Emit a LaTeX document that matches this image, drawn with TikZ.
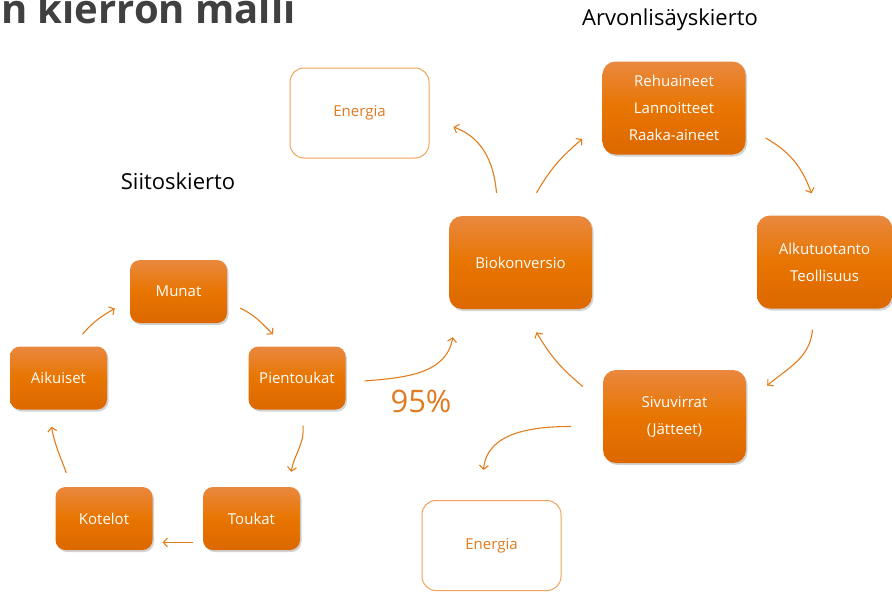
\documentclass[tikz,border=0pt]{standalone}
\usepackage{fontspec}
\setmainfont{Open Sans}
\usetikzlibrary{arrows.meta, shadows, positioning}

\definecolor{boxtop}{HTML}{E9883F}
\definecolor{boxmid}{HTML}{E87500}
\definecolor{boxbot}{HTML}{DC6800}
\definecolor{lineor}{HTML}{E27D1E}
\definecolor{edgeor}{HTML}{F2A358}
\definecolor{textor}{HTML}{E07A1E}
\definecolor{titlegray}{HTML}{404040}

\tikzset{
	stage/.style={rectangle, rounded corners=10pt, minimum width=97pt, minimum height=63pt, inner sep=0pt,
		top color=boxtop, bottom color=boxbot, middle color=boxmid, text=white, align=center,
		font=\fontsize{15}{27}\selectfont,
		drop shadow={shadow xshift=1.5pt, shadow yshift=-2pt, opacity=0.35}},
	bigstage/.style={stage, rounded corners=13pt, minimum width=143pt, minimum height=93pt},
	outbox/.style={rectangle, rounded corners=14pt, draw=edgeor, line width=1pt, fill=white, inner sep=0pt,
		minimum width=139pt, minimum height=90pt, text=textor, font=\fontsize{15}{18}\selectfont},
	flow/.style={draw=lineor, line width=1.1pt, -{Straight Barb[length=4pt,width=9pt]}},
	heading/.style={text=black, font=\fontsize{22}{26}\selectfont}
}

\begin{document}
\begin{tikzpicture}[x=1pt, y=1pt]
	
	\useasboundingbox (0,0) rectangle (892,-592);
	
	%// title, cut at the page edge
	\node [anchor=base west, inner sep=0pt, text=titlegray, font=\fontsize{40}{46}\selectfont\bfseries] (title) at (1,-23) {n kierron malli};
	
	\node [heading] (siitos) at (178,-181) {Siitoskierto};
	\node [heading] (arvo) at (670,-20) {Arvonlisäyskierto};
	
	%// siitoskierto
	\node [stage] (munat) at (178.5,-291.5) {Munat};
	\node [stage] (pien) at (297,-378) {Pientoukat};
	\node [stage] (aik) at (58.5,-378) {Aikuiset};
	\node [stage] (kot) at (104,-518.5) {Kotelot};
	\node [stage] (touk) at (251.5,-518.5) {Toukat};
	
	%// arvonlisäyskierto
	\node [bigstage] (bio) at (520.5,-262.5) {Biokonversio};
	\node [bigstage] (rehu) at (674,-108) {Rehuaineet\\Lannoitteet\\Raaka-aineet};
	\node [bigstage, minimum width=135pt] (alku) at (824.5,-262) {Alkutuotanto\\Teollisuus};
	\node [bigstage] (sivu) at (674.5,-416.5) {Sivuvirrat\\(Jätteet)};
	\node [outbox] (en1) at (359.5,-113) {Energia};
	\node [outbox] (en2) at (491.5,-545.5) {Energia};
	
	\node [text=textor, font=\fontsize{31}{35}\selectfont] (pros) at (421,-401) {95\%};
	
	%// arrows round the small cycle
	\draw [flow] ([shift={(13,15)}]munat.south east) to[out=-25, in=135] ([shift={(-24,12)}]pien.north);
	\draw [flow] ([shift={(6,-16)}]pien.south) to[out=-85, in=80] ([shift={(-9,15)}]touk.north east);
	\draw [flow] ([shift={(-10,-24)}]touk.west) -- ([shift={(10,-24)}]kot.east);
	\draw [flow] ([shift={(11,14)}]kot.north west) to[out=110, in=-80] ([shift={(-7,-17)}]aik.south);
	\draw [flow] ([shift={(24,12)}]aik.north) to[out=50, in=-150] ([shift={(-15,-17)}]munat.west);
	
	%// arrows round the big cycle
	\draw [flow] ([shift={(19,-3)}]pien.east) to[out=5, in=-100] ([shift={(4,-28)}]bio.south west);
	\draw [flow] ([shift={(-24,23)}]bio.north) to[out=95, in=-20] ([shift={(24,-14)}]en1.east);
	\draw [flow] ([shift={(16,23)}]bio.north) to[out=60, in=-140] ([shift={(-20,-31)}]rehu.west);
	\draw [flow] ([shift={(20,-30)}]rehu.east) to[out=-30, in=110] ([shift={(-13,22)}]alku.north);
	\draw [flow] ([shift={(-12,-21)}]alku.south) to[out=-95, in=40] ([shift={(21,31)}]sivu.east);
	\draw [flow] ([shift={(-20,30)}]sivu.west) to[out=140, in=-60] ([shift={(16,-23)}]bio.south);
	\draw [flow] ([shift={(-32,-10)}]sivu.west) to[out=180, in=85] ([shift={(-8,30)}]en2.north);
	
\end{tikzpicture}
\end{document}
